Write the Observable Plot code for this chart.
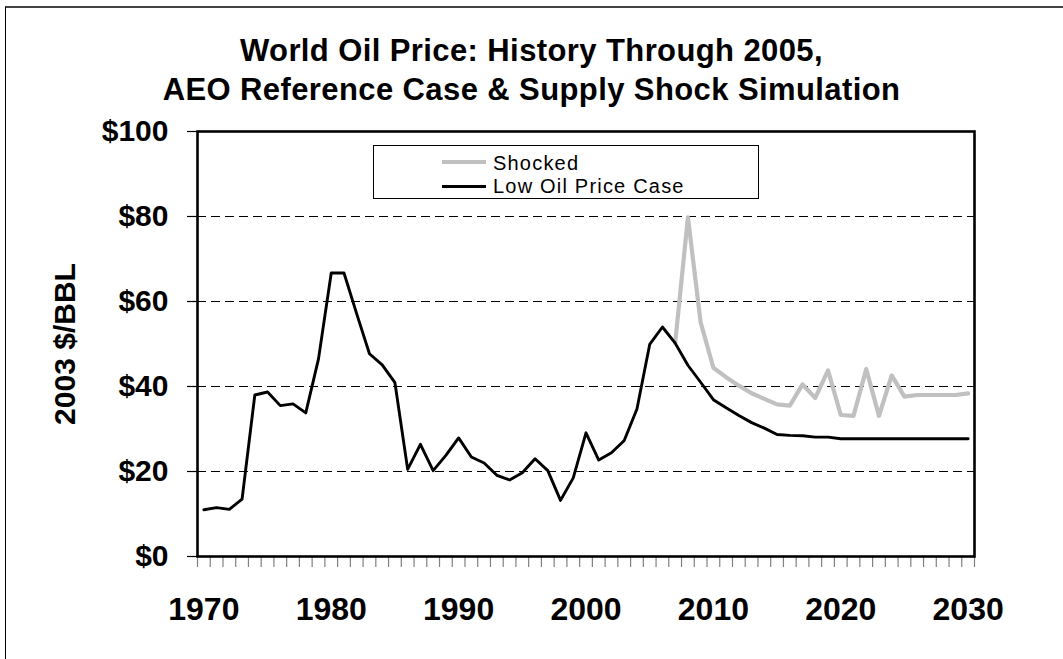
<!DOCTYPE html>
<html>
<head>
<meta charset="utf-8">
<script src="https://cdn.jsdelivr.net/npm/d3@7"></script>
<script src="https://cdn.jsdelivr.net/npm/@observablehq/plot@0.6"></script>
<style>
  html, body { margin: 0; padding: 0; background: #fff; overflow: hidden; }
  #wrap { position: relative; width: 1063px; height: 659px; font-family: "Liberation Sans", Arial, sans-serif; }
  #frame { position: absolute; left: 5px; top: 6px; width: 1200px; height: 800px; border-top: 2px solid #444; border-left: 1px solid #000; pointer-events: none; z-index: 3; }
  .title { position: absolute; left: 0; width: 1063px; text-align: center; font-weight: bold; font-size: 31px; letter-spacing: 0.4px; line-height: 39px; white-space: nowrap; z-index: 2; }
  #legend { position: absolute; left: 373px; top: 145px; width: 384px; height: 52px; border: 1px solid #000; background: #fff; z-index: 2; }
  .sw { position: absolute; }
  .lt { position: absolute; font-size: 20px; line-height: 20px; letter-spacing: 1.2px; white-space: nowrap; }
  #chart { position: absolute; left: 0; top: 0; z-index: 1; }
</style>
</head>
<body>
<div id="wrap">
  <div class="title" style="top:31px">World Oil Price: History Through 2005,</div>
  <div class="title" style="top:70px">AEO Reference Case &amp; Supply Shock Simulation</div>
  <div id="chart"></div>
  <div id="legend">
    <div class="sw" style="left:68px; top:14px; width:44px; height:4px; background:#c0c0c0"></div>
    <div class="lt" style="left:119px; top:7px">Shocked</div>
    <div class="sw" style="left:68px; top:39px; width:44px; height:2.6px; background:#000"></div>
    <div class="lt" style="left:119px; top:29.5px">Low Oil Price Case</div>
  </div>
  <div id="frame"></div>
</div>
<script>
const years = [1970,1971,1972,1973,1974,1975,1976,1977,1978,1979,
  1980,1981,1982,1983,1984,1985,1986,1987,1988,1989,
  1990,1991,1992,1993,1994,1995,1996,1997,1998,1999,
  2000,2001,2002,2003,2004,2005,2006,2007,2008,2009,
  2010,2011,2012,2013,2014,2015,2016,2017,2018,2019,
  2020,2021,2022,2023,2024,2025,2026,2027,2028,2029,2030];

const lowOilPrice = [11.0,11.5,11.1,13.5,38.0,38.7,35.5,35.9,33.8,46.5,
  66.7,66.7,57.1,47.7,45.1,40.9,20.5,26.4,20.2,23.8,
  27.9,23.4,22.0,19.1,18.0,19.7,23.0,20.2,13.2,18.5,
  29.1,22.7,24.4,27.3,34.7,49.9,54.0,50.2,45.0,41.0,
  36.9,35.0,33.2,31.5,30.2,28.7,28.5,28.4,28.1,28.1,
  27.7,27.7,27.7,27.7,27.7,27.7,27.7,27.7,27.7,27.7,27.7];

const shocked = [null,null,null,null,null,null,null,null,null,null,
  null,null,null,null,null,null,null,null,null,null,
  null,null,null,null,null,null,null,null,null,null,
  null,null,null,null,null,null,null,50.2,79.8,55.1,
  44.4,42.2,40.2,38.4,37.1,35.8,35.5,40.5,37.3,43.8,
  33.3,33.1,44.1,33.1,42.6,37.6,38.0,38.0,38.0,38.0,38.4];

const yTicks = [0,20,40,60,80,100];
const gridValues = [20,40,60,80];
const xLabelYears = [1970,1980,1990,2000,2010,2020,2030];
const yTitle = "2003 $/BBL";

const lowData = years.map((y,i) => ({year: y, value: lowOilPrice[i]}));
const shockData = years.map((y,i) => ({year: y, value: shocked[i]})).filter(d => d.value != null);
const boundaries = d3.range(years.length + 1).map(i => years[0] - 0.5 + i);

const chart = Plot.plot({
  width: 1063,
  height: 659,
  marginTop: 131,
  marginBottom: 103,
  marginLeft: 197,
  marginRight: 89,
  style: {fontFamily: '"Liberation Sans", Arial, sans-serif', background: "transparent", color: "#000", fontWeight: "bold"},
  x: {domain: [years[0] - 0.5, years[years.length-1] + 0.5]},
  y: {domain: [0, 100]},
  marks: [
    Plot.ruleY(gridValues, {stroke: "#000", strokeWidth: 1, strokeDasharray: "9,5"}),
    Plot.axisX({ticks: boundaries, tickSize: 11, tickFormat: () => "", stroke: "#808080", strokeWidth: 1.2, label: null}),
    Plot.axisX({ticks: xLabelYears, tickSize: 0, tickPadding: 41, tickFormat: d => String(d), fontSize: 32, fontWeight: "bold", label: null}),
    Plot.axisY({ticks: yTicks, tickSize: 10, tickPadding: 19, tickFormat: d => "$" + d, fontSize: 30, fontWeight: "bold",
      label: yTitle, labelAnchor: "center", labelOffset: 144, labelArrow: "none", strokeWidth: 1.2}),
    Plot.line(shockData, {x: "year", y: "value", stroke: "#c0c0c0", strokeWidth: 4.2}),
    Plot.line(lowData, {x: "year", y: "value", stroke: "#000", strokeWidth: 2.9}),
    Plot.frame({stroke: "#000", strokeWidth: 2.6})
  ]
});
document.getElementById("chart").appendChild(chart);
</script>
</body>
</html>
